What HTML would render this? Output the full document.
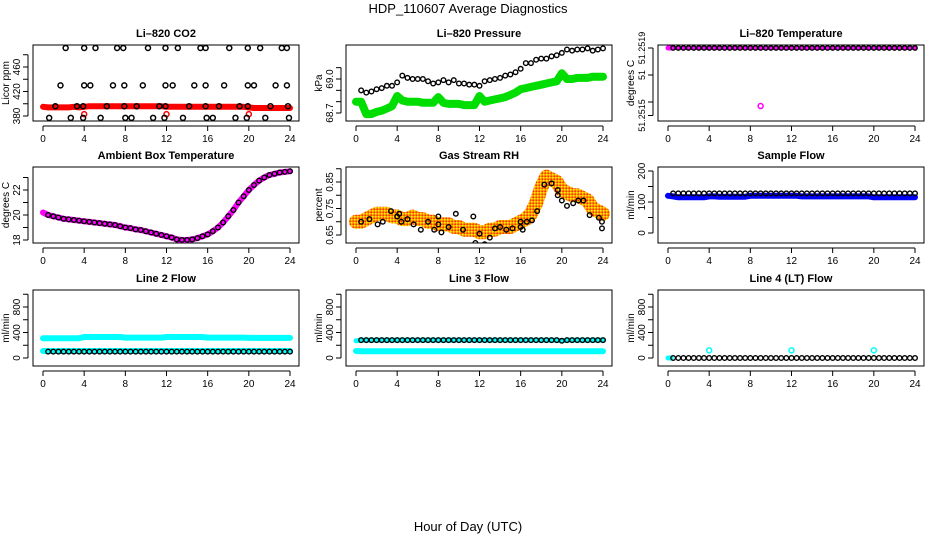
<!DOCTYPE html>
<html><head><meta charset="utf-8"><style>
html,body{margin:0;padding:0;background:#fff;}
svg{display:block;font-family:"Liberation Sans",Arial,sans-serif;}
</style></head><body>
<svg id="chart" width="936" height="540" viewBox="0 0 936 540">
<defs>
<pattern id="speckle" width="3" height="3" patternUnits="userSpaceOnUse">
<rect width="3" height="3" fill="#ff9900"/><rect width="1.5" height="1.5" fill="#ffee00"/><rect x="1.5" y="1.5" width="1.5" height="1.5" fill="#ff3300"/>
</pattern>
</defs>
<text x="468" y="13" text-anchor="middle" font-size="13">HDP_110607  Average Diagnostics</text>
<text x="468" y="531" text-anchor="middle" font-size="13">Hour of Day (UTC)</text>
</svg>
<script>
// ---- data ----
const xTicks = [0,4,8,12,16,20,24];
const halfHours = [0,0.5,1,1.5,2,2.5,3,3.5,4,4.5,5,5.5,6,6.5,7,7.5,8,8.5,9,9.5,10,10.5,11,11.5,12,12.5,13,13.5,14,14.5,15,15.5,16,16.5,17,17.5,18,18.5,19,19.5,20,20.5,21,21.5,22,22.5,23,23.5,24];

// CO2
const co2BlackHours = [2.2,4.0,5.1,7.2,7.8,10.2,11.9,13.1,15.3,15.8,18.1,19.9,21.1,23.2,23.7,
 1.7,4.0,4.6,6.8,7.9,9.7,11.9,12.6,14.7,15.8,17.6,19.9,20.5,22.6,23.7,
 1.2,3.3,3.9,6.2,7.9,9.1,11.3,11.9,14.2,15.8,17.1,19.1,19.9,22.1,23.8,
 0.6,2.7,3.9,5.6,8.0,8.6,10.7,11.8,13.6,15.9,16.5,18.7,19.8,21.6,23.9];
const co2BlackVals = [491,491,491,491,491,491,491,491,491,491,491,491,491,491,491,
 430,430,430,430,430,430,430,430,430,430,430,430,430,430,430,
 396,396,396,396,396,396,396,396,396,396,396,396,396,396,396,
 377,377,377,377,377,377,377,377,377,377,377,377,377,377,377];
const co2RedVals = [395,394,394,394,394,394,395,394,395,396,396,396,396,396,396,396,396,396,396,396,396,396,396,396,395,395,395,395,395,395,395,395,395,395,395,395,395,395,395,395,394,393,393,393,393,393,393,393,393];
const co2RedOutHours = [4,12,20];
const co2RedOutVals = [383,383,383];

// Pressure
const presBlack = [null,68.90,68.88,68.89,68.91,68.92,68.94,68.94,68.97,69.03,69.01,69.00,69.00,69.00,68.98,68.96,68.97,68.99,68.97,68.99,68.96,68.96,68.95,68.95,68.94,68.98,68.99,69.00,69.01,69.03,69.04,69.06,69.09,69.14,69.14,69.17,69.18,69.18,69.20,69.21,69.23,69.26,69.25,69.26,69.26,69.27,69.25,69.26,69.27];
const presGreen = [68.80,68.80,68.69,68.69,68.71,68.72,68.74,68.76,68.85,68.81,68.80,68.80,68.80,68.79,68.79,68.79,68.84,68.79,68.78,68.78,68.78,68.77,68.77,68.77,68.85,68.80,68.81,68.82,68.83,68.84,68.86,68.88,68.91,68.92,68.93,68.94,68.95,68.96,68.97,68.98,69.05,69.00,69.00,69.01,69.01,69.01,69.02,69.02,69.02];

// Li-820 temperature
const liTempBlack = [51.2519,51.2519,51.2519,51.2519,51.2519,51.2519,51.2519,51.2519,51.2519,51.2519,51.2519,51.2519,51.2519,51.2519,51.2519,51.2519,51.2519,51.2519,51.2519,51.2519,51.2519,51.2519,51.2519,51.2519,51.2519,51.2519,51.2519,51.2519,51.2519,51.2519,51.2519,51.2519,51.2519,51.2519,51.2519,51.2519,51.2519,51.2519,51.2519,51.2519,51.2519,51.2519,51.2519,51.2519,51.2519,51.2519,51.2519,51.2519,51.2519];
const liTempOutHours = [9];
const liTempOutVals = [51.25147];

// Ambient box temperature
const boxTemp = [20.2,20.0,19.9,19.8,19.7,19.65,19.6,19.55,19.5,19.45,19.4,19.35,19.3,19.25,19.2,19.1,19.0,18.95,18.85,18.8,18.7,18.6,18.5,18.4,18.3,18.2,18.05,18.0,18.0,18.05,18.15,18.3,18.45,18.7,19.0,19.4,19.9,20.4,21.0,21.5,22.0,22.4,22.75,23.0,23.2,23.3,23.4,23.45,23.5];

// Gas stream RH
const rhBand = [0.70,0.70,0.71,0.72,0.73,0.73,0.73,0.72,0.72,0.71,0.71,0.72,0.71,0.71,0.70,0.70,0.69,0.69,0.69,0.68,0.68,0.67,0.67,0.67,0.66,0.66,0.67,0.67,0.68,0.68,0.68,0.69,0.70,0.71,0.73,0.77,0.83,0.87,0.86,0.85,0.82,0.81,0.80,0.80,0.79,0.78,0.75,0.74,0.73];
const rhBlackHours = [0.5,1.3,2.1,2.6,3.4,4.0,4.2,4.4,5.0,5.6,6.3,7.0,7.6,8.0,8.0,8.3,9.0,9.7,10.4,11.4,11.6,12.0,12.5,13.0,13.5,14.0,14.6,15.2,16.0,16.0,16.2,16.6,17.1,17.6,18.3,19.0,19.6,19.6,20.0,20.5,21.1,21.6,22.1,22.7,23.6,23.9,23.9];
const rhBlackVals = [0.70,0.71,0.69,0.70,0.74,0.72,0.73,0.70,0.71,0.69,0.67,0.70,0.67,0.72,0.69,0.66,0.68,0.73,0.67,0.72,0.62,0.655,0.615,0.64,0.675,0.68,0.67,0.675,0.70,0.68,0.67,0.70,0.705,0.74,0.84,0.845,0.82,0.80,0.78,0.76,0.77,0.78,0.78,0.725,0.715,0.70,0.675];

// Sample flow
const sampleBlue = [120,118,115,115,115,115,115,115,118,118,117,117,117,117,117,117,120,120,120,120,120,120,120,120,120,120,118,118,118,118,118,118,118,118,118,118,118,118,118,118,115,115,115,115,115,115,115,115,115];
const sampleBlack = [null,128,128,128,128,128,128,128,128,128,128,128,128,128,128,128,128,128,128,128,128,128,128,128,128,128,128,128,128,128,128,128,128,128,128,128,128,128,128,128,128,128,128,128,128,128,128,128,128];

// Line flows
const line2Cyan = [310,310,310,310,310,310,310,310,330,330,330,330,330,330,330,330,320,320,320,320,320,320,320,320,330,330,330,330,330,330,330,330,320,320,320,320,320,320,320,320,315,315,315,315,315,315,315,315,315];
const line2CyanLow = [110,110,110,110,110,110,110,110,110,110,110,110,110,110,110,110,110,110,110,110,110,110,110,110,110,110,110,110,110,110,110,110,110,110,110,110,110,110,110,110,110,110,110,110,110,110,110,110,110];
const line2Black = [null,100,100,100,100,100,100,100,100,100,100,100,100,100,100,100,100,100,100,100,100,100,100,100,100,100,100,100,100,100,100,100,100,100,100,100,100,100,100,100,100,100,100,100,100,100,100,100,100];
const line3CyanLow = [110,105,105,105,105,105,105,105,105,105,105,105,105,105,105,105,105,105,105,105,105,105,105,105,105,105,105,105,105,105,105,105,105,105,105,105,105,105,105,105,105,105,105,105,105,105,105,105,105];
const line3Black = [270,280,280,280,280,280,280,280,280,280,280,280,280,280,280,280,280,280,280,280,280,280,280,280,280,280,280,280,280,280,280,280,280,280,280,280,280,280,280,280,270,280,280,280,280,280,280,280,280];
const line4Black = [0,0,0,0,0,0,0,0,0,0,0,0,0,0,0,0,0,0,0,0,0,0,0,0,0,0,0,0,0,0,0,0,0,0,0,0,0,0,0,0,0,0,0,0,0,0,0,0,0];
const line4OutHours = [4,12,20];
const line4OutVals = [120,120,120];

// ---- drawing ----
const NS='http://www.w3.org/2000/svg';
const svg=document.getElementById('chart');
function mk(tag,attrs,parent){const e=document.createElementNS(NS,tag);for(const k in attrs)e.setAttribute(k,attrs[k]);(parent||svg).appendChild(e);return e;}

function panel(p){
  const g=mk('g',{});
  
  
  const L=p.left,T=p.top,W=266,H=76;
  const x0=L+10, x1=L+257;
  const sx=h=>x0+(h/24)*(x1-x0);
  const sy=v=>p.y0px+(v-p.y0)*(p.y1px-p.y0px)/(p.y1-p.y0);
  p.sx=sx;p.sy=sy;p.g=g;
  const t=mk('text',{x:L+W/2,y:T-8,'text-anchor':'middle','font-size':11,'font-weight':'bold'},g);
  t.textContent=p.title;
  
  
  const box=mk('rect',{x:L,y:T,width:W,height:H,fill:'none',stroke:'#000','stroke-width':1},g);
  
  
  const xa=mk('g',{},g);
  
  
  mk('line',{x1:sx(0),x2:sx(24),y1:T+H+5,y2:T+H+5,stroke:'#000'},xa);
  xTicks.forEach(h=>{
    mk('line',{x1:sx(h),x2:sx(h),y1:T+H+5,y2:T+H+10,stroke:'#000'},xa);
    if(p.xlabels){const tt=mk('text',{x:sx(h),y:T+H+21,'text-anchor':'middle','font-size':10},xa);tt.textContent=h;
      
      }
  });
  const ya=mk('g',{},g);
  
  
  const yt=p.yticks;
  mk('line',{x1:L-5,x2:L-5,y1:sy(yt[0]),y2:sy(yt[yt.length-1]),stroke:'#000'},ya);
  yt.forEach((v,i)=>{
    mk('line',{x1:L-10,x2:L-5,y1:sy(v),y2:sy(v),stroke:'#000'},ya);
    const lab=p.ylabels[i];
    if(lab){const tt=mk('text',{x:0,y:0,'text-anchor':'middle','font-size':p.yfs||10,transform:`translate(${L-13},${sy(v)}) rotate(-90)`},ya);tt.textContent=lab;
      
      }
  });
  const yl=mk('text',{x:0,y:0,'text-anchor':'middle','font-size':10,transform:`translate(${L-24},${T+H/2}) rotate(-90)`},ya);
  yl.textContent=p.ylab;
  
  
  const clip=mk('clipPath',{id:'c'+p.name},g);mk('rect',{x:L,y:T,width:W,height:H},clip);
  p.pg=mk('g',{'clip-path':`url(#c${p.name})`},g);
  return p;
}
function pts(p,hours,vals,color,r,sw,name,fill){
  hours.forEach((h,i)=>{const v=vals[i];if(v===null||v===undefined)return;
    const c=mk('circle',{cx:p.sx(h),cy:p.sy(v),r:r,fill:fill||'none',stroke:color,'stroke-width':sw},p.pg);
    
    
  });
}
function band(p,hours,vals,color,w,name){
  let d='';hours.forEach((h,i)=>{const v=vals[i];if(v===null)return;d+=(d?'L':'M')+p.sx(h).toFixed(1)+','+p.sy(v).toFixed(1);});
  const e=mk('path',{d:d,fill:'none',stroke:color,'stroke-width':w,'stroke-linejoin':'round','stroke-linecap':'round'},p.pg);
  
  
}
const cols=[33,346,658], rows=[45,167,290];

let p=panel({name:'co2-panel',title:'Li\u2013820 CO2',left:cols[0],top:rows[0],xlabels:true,ylab:'Licor ppm',
  y0:380,y0px:116,y1:460,y1px:67,yticks:[380,400,420,440,460,480],ylabels:['380','','420','','460','']});
band(p,halfHours,co2RedVals,'#ff0000',6,'co2-red-series');
pts(p,co2RedOutHours,co2RedOutVals,'#ff0000',2.5,1.5,'co2-red-point');
pts(p,co2BlackHours,co2BlackVals,'#000',2.5,1.5,'co2-black-point');

p=panel({name:'pressure-panel',title:'Li\u2013820 Pressure',left:cols[1],top:rows[0],xlabels:true,ylab:'kPa',
  y0:68.7,y0px:113,y1:69.0,y1px:79,yticks:[68.7,68.8,68.9,69.0,69.1],ylabels:['68.7','','','69.0','']});
band(p,halfHours,presGreen,'#00dd00',8,'pressure-green-series');
pts(p,halfHours,presBlack,'#000',2.3,1.4,'pressure-black-point');

p=panel({name:'li820-temp-panel',title:'Li\u2013820 Temperature',left:cols[2],top:rows[0],xlabels:true,ylab:'degrees C',yfs:9,
  y0:51.2515,y0px:102,y1:51.2519,y1px:48,yticks:[51.25140,51.2515,51.2517,51.2519],ylabels:['51.2515','','51','51.2519']});
band(p,[0,0.3],[51.2519,51.2519],'#ff00ff',5,'li820-temp-magenta');
band(p,halfHours,liTempBlack,'#ff00ff',4,'li820-temp-magenta-series');
pts(p,halfHours.slice(1),liTempBlack.slice(1),'#000',2.2,1.4,'li820-temp-black-point');
pts(p,liTempOutHours,liTempOutVals,'#ff00ff',2.5,1.5,'li820-temp-outlier');

p=panel({name:'box-temp-panel',title:'Ambient Box Temperature',left:cols[0],top:rows[1],xlabels:true,ylab:'degrees C',
  y0:18,y0px:240,y1:22,y1px:190,yticks:[18,19,20,21,22,23],ylabels:['18','','20','','22','']});
band(p,halfHours,boxTemp,'#ff00ff',6,'box-temp-magenta-series');
pts(p,halfHours.slice(1),boxTemp.slice(1),'#000',2.3,1.4,'box-temp-black-point');

p=panel({name:'rh-panel',title:'Gas Stream RH',left:cols[1],top:rows[1],xlabels:true,ylab:'percent',
  y0:0.65,y0px:235,y1:0.85,y1px:182,yticks:[0.65,0.70,0.75,0.80,0.85,0.90],ylabels:['0.65','','0.75','','0.85','']});
band(p,halfHours,rhBand,'url(#speckle)',14,'rh-orange-series');
pts(p,rhBlackHours,rhBlackVals,'#000',2.3,1.4,'rh-black-point');

p=panel({name:'sample-flow-panel',title:'Sample Flow',left:cols[2],top:rows[1],xlabels:true,ylab:'ml/min',
  y0:0,y0px:233,y1:200,y1px:171,yticks:[0,50,100,150,200],ylabels:['0','','100','','200']});
band(p,halfHours,sampleBlue,'#0000ff',6,'sample-flow-blue-series');
pts(p,halfHours,sampleBlack,'#000',2.3,1.4,'sample-flow-black-point');

const rowTicks=[0,200,400,600,800,1000], rowLabels=['0','','400','','800',''];
p=panel({name:'line2-flow-panel',title:'Line 2 Flow',left:cols[0],top:rows[2],xlabels:true,ylab:'ml/min',
  y0:0,y0px:358,y1:800,y1px:307,yticks:rowTicks,ylabels:rowLabels});
band(p,halfHours,line2Cyan,'#00ffff',6,'line2-cyan-series');
band(p,halfHours,line2CyanLow,'#00ffff',6,'line2-cyan-low-series');
pts(p,halfHours,line2Black,'#000',2.3,1.4,'line2-black-point');

p=panel({name:'line3-flow-panel',title:'Line 3 Flow',left:cols[1],top:rows[2],xlabels:true,ylab:'ml/min',
  y0:0,y0px:358,y1:800,y1px:307,yticks:rowTicks,ylabels:rowLabels});
band(p,halfHours,line3CyanLow,'#00ffff',6,'line3-cyan-low-series');
band(p,halfHours,line3Black,'#00ffff',5,'line3-cyan-series');
pts(p,halfHours.slice(1),line3Black.slice(1),'#000',2.3,1.4,'line3-black-point');

p=panel({name:'line4-flow-panel',title:'Line 4 (LT) Flow',left:cols[2],top:rows[2],xlabels:true,ylab:'ml/min',
  y0:0,y0px:358,y1:800,y1px:307,yticks:rowTicks,ylabels:rowLabels});
band(p,[0,0.3],[0,0],'#00ffff',5,'line4-cyan-start');
pts(p,halfHours.slice(1),line4Black.slice(1),'#000',2.3,1.4,'line4-black-point');
pts(p,line4OutHours,line4OutVals,'#00ffff',2.5,1.5,'line4-cyan-point');
</script>
</body></html>
